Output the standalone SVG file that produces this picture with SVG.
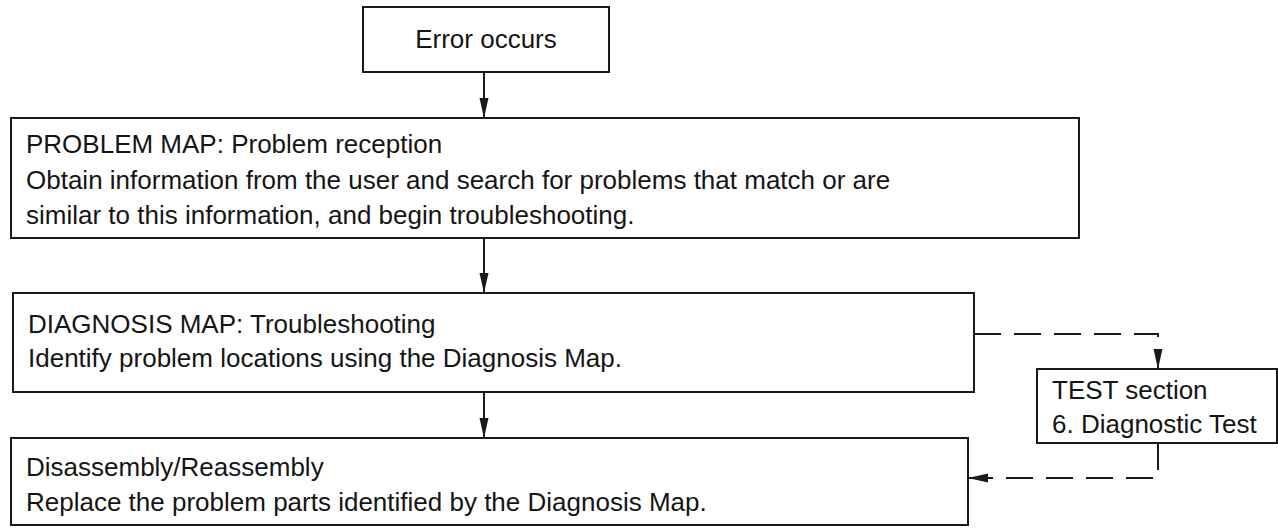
<svg xmlns="http://www.w3.org/2000/svg" width="1278" height="532" viewBox="0 0 1278 532">
<style>
.box{fill:#fff;stroke:#1a1a1a;stroke-width:2}
.t{font-family:"Liberation Sans",Arial,Helvetica,sans-serif;font-size:26px;fill:#151515}
.c{fill:none;stroke:#1a1a1a;stroke-width:2}
.d{stroke-dasharray:27 13}
</style>
<defs>
<marker id="ah" markerUnits="userSpaceOnUse" markerWidth="20" markerHeight="10" refX="20" refY="5" orient="auto">
<path d="M0,0.5 L20,5 L0,9.5 z" fill="#1a1a1a"/>
</marker>
</defs>
<rect width="1278" height="532" fill="#fff"/>
<g id="connectors">
<path class="c" d="M484,72 V118" marker-end="url(#ah)"/>
<path class="c" d="M484,238 V293" marker-end="url(#ah)"/>
<path class="c" d="M484,392 V438" marker-end="url(#ah)"/>
<path class="c d" d="M974,334 H1158 V369" marker-end="url(#ah)"/>
<path class="c d" d="M1158,443 V478 H968" marker-end="url(#ah)"/>
</g>
<g id="error">
<rect class="box" x="363" y="7" width="246" height="65"/>
<text class="t" x="486" y="48" text-anchor="middle">Error occurs</text>
</g>
<g id="problem">
<rect class="box" x="11" y="118" width="1068" height="120"/>
<text class="t" x="26" y="153">PROBLEM MAP: Problem reception</text>
<text class="t" x="26" y="189">Obtain information from the user and search for problems that match or are</text>
<text class="t" x="26" y="224">similar to this information, and begin troubleshooting.</text>
</g>
<g id="diagnosis">
<rect class="box" x="13" y="293" width="961" height="99"/>
<text class="t" x="28" y="333">DIAGNOSIS MAP: Troubleshooting</text>
<text class="t" x="28" y="367">Identify problem locations using the Diagnosis Map.</text>
</g>
<g id="test">
<rect class="box" x="1037" y="369" width="240" height="74"/>
<text class="t" x="1052" y="399">TEST section</text>
<text class="t" x="1052" y="433">6. Diagnostic Test</text>
</g>
<g id="disassembly">
<rect class="box" x="11" y="438" width="957" height="87"/>
<text class="t" x="26" y="476">Disassembly/Reassembly</text>
<text class="t" x="26" y="511">Replace the problem parts identified by the Diagnosis Map.</text>
</g>
</svg>
